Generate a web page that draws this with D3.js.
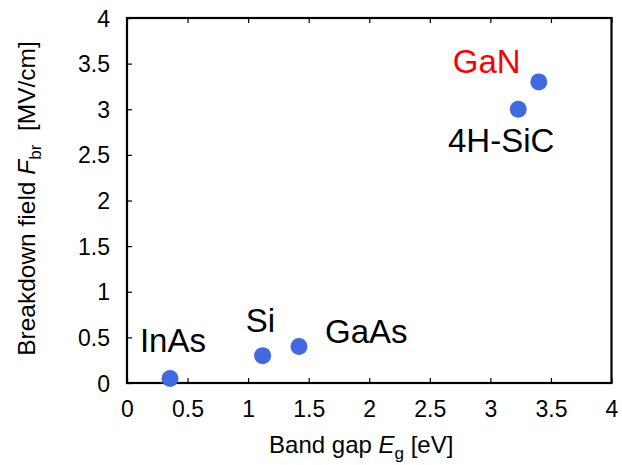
<!DOCTYPE html>
<html>
<head>
<meta charset="utf-8">
<script src="https://cdn.jsdelivr.net/npm/d3@7"></script>
<style>
  html, body { margin: 0; padding: 0; background: #fff; }
  svg { display: block; font-family: "Liberation Sans", Arial, Helvetica, sans-serif; }
</style>
</head>
<body>
<svg id="chart" width="622" height="465"></svg>
<script>
// ---- data ----
const materials = ["InAs", "Si", "GaAs", "4H-SiC", "GaN"];
const bandGap = [0.355, 1.12, 1.42, 3.23, 3.40];          // eV
const breakdownField = [0.05, 0.30, 0.40, 3.00, 3.30];    // MV/cm
const labelX = [0.107, 0.98, 1.635, 2.65, 2.69];          // label anchor (data units)
const labelY = [0.34, 0.56, 0.435, 2.53, 3.40];
const labelColors = ["#000000", "#000000", "#000000", "#000000", "#ff0000"];
const xTicks = [0, 0.5, 1, 1.5, 2, 2.5, 3, 3.5, 4];
const yTicks = [0, 0.5, 1, 1.5, 2, 2.5, 3, 3.5, 4];

// ---- layout ----
const mLeft = 127, mRight = 611.5, mTop = 18, mBottom = 383;
const svg = d3.select("#chart");
const x = d3.scaleLinear().domain([0, 4]).range([mLeft, mRight]);
const y = d3.scaleLinear().domain([0, 4]).range([mBottom, mTop]);
const fmt = d => String(d);

// bottom axis (ticks inward)
const gx = svg.append("g").attr("transform", `translate(0,${mBottom})`)
  .call(d3.axisBottom(x).tickValues(xTicks).tickFormat(fmt).tickSize(-5).tickPadding(28));
// top axis mirror ticks (no labels)
const gxt = svg.append("g").attr("transform", `translate(0,${mTop})`)
  .call(d3.axisTop(x).tickValues(xTicks).tickFormat("").tickSize(-5));
// left axis
const gy = svg.append("g").attr("transform", `translate(${mLeft},0)`)
  .call(d3.axisLeft(y).tickValues(yTicks).tickFormat(fmt).tickSize(-5).tickPadding(17));

[gx, gxt, gy].forEach(g => {
  g.select(".domain").remove();
  g.selectAll(".tick line").attr("stroke", "#000").attr("stroke-width", 1.2);
  g.selectAll(".tick text").attr("fill", "#000").attr("font-size", 23)
    .attr("font-family", "Liberation Sans, Arial, sans-serif");
});
gx.selectAll(".tick text").attr("dy", null).attr("y", 34);
gy.selectAll(".tick text").attr("dy", "0.35em");

// frame
svg.append("rect")
  .attr("x", mLeft).attr("y", mTop)
  .attr("width", mRight - mLeft).attr("height", mBottom - mTop)
  .attr("fill", "none").attr("stroke", "#000").attr("stroke-width", 2.2);

// points
svg.append("g").selectAll("circle")
  .data(materials.map((m, i) => ({ m, eg: bandGap[i], f: breakdownField[i] })))
  .join("circle")
  .attr("cx", d => x(d.eg))
  .attr("cy", d => y(d.f))
  .attr("r", 8.5)
  .attr("fill", "#4169e1");

// labels
svg.append("g").selectAll("text")
  .data(materials.map((m, i) => ({ m, lx: labelX[i], ly: labelY[i], c: labelColors[i] })))
  .join("text")
  .attr("x", d => x(d.lx))
  .attr("y", d => y(d.ly))
  .attr("fill", d => d.c)
  .attr("font-size", 33)
  .text(d => d.m);

// x axis title
const xt = svg.append("text")
  .attr("x", (mLeft + mRight) / 2 - 8).attr("y", 453)
  .attr("text-anchor", "middle").attr("font-size", 24).attr("fill", "#000");
xt.append("tspan").text("Band gap ");
xt.append("tspan").attr("font-style", "italic").text("E");
xt.append("tspan").attr("font-size", 17).attr("dy", 6).text("g");
xt.append("tspan").attr("dy", -6).text(" [eV]");

// y axis title
const yt = svg.append("text")
  .attr("transform", `translate(35,${(mTop + mBottom) / 2 - 2}) rotate(-90)`)
  .attr("text-anchor", "middle").attr("font-size", 24.5).attr("fill", "#000");
yt.append("tspan").text("Breakdown field ");
yt.append("tspan").attr("font-style", "italic").text("F");
yt.append("tspan").attr("font-size", 17).attr("dy", 6).text("br");
yt.append("tspan").attr("dy", -6).text("\u00a0 [MV/cm]");
</script>
</body>
</html>
